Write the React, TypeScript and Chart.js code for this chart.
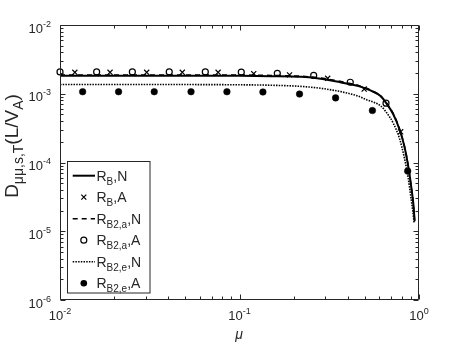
import React, { useEffect, useRef } from 'react';
import { Chart, registerables } from 'chart.js';

Chart.register(...registerables);

// ---- data ----
const lineMu = [0.01, 0.05, 0.1, 0.15, 0.22, 0.27, 0.33, 0.4, 0.46, 0.51, 0.56, 0.61, 0.66, 0.72, 0.78, 0.83, 0.87, 0.91, 0.93, 0.946];
const solidVals = [1.83e-3, 1.83e-3, 1.82e-3, 1.8e-3, 1.76e-3, 1.68e-3, 1.55e-3, 1.4e-3, 1.29e-3, 1.18e-3, 1.06e-3, 9.3e-4, 7.2e-4, 5.0e-4, 3.0e-4, 1.7e-4, 9.0e-5, 4.0e-5, 2.5e-5, 1.4e-5];
const dashedVals = [1.88e-3, 1.88e-3, 1.87e-3, 1.85e-3, 1.8e-3, 1.72e-3, 1.59e-3, 1.44e-3, 1.32e-3, 1.2e-3, 1.07e-3, 9.4e-4, 7.3e-4, 5.1e-4, 3.05e-4, 1.72e-4, 9.1e-5, 4.0e-5, 2.5e-5, 1.4e-5];
const dottedMu = [0.01, 0.05, 0.1, 0.15, 0.22, 0.27, 0.33, 0.4, 0.46, 0.51, 0.56, 0.61, 0.66, 0.72, 0.78, 0.83, 0.87, 0.9, 0.925, 0.94];
const dottedVals = [1.36e-3, 1.36e-3, 1.35e-3, 1.33e-3, 1.28e-3, 1.22e-3, 1.13e-3, 1.02e-3, 9.2e-4, 8.2e-4, 7.5e-4, 6.7e-4, 5.3e-4, 3.7e-4, 2.2e-4, 1.15e-4, 6.0e-5, 3.2e-5, 1.9e-5, 1.3e-5];

const crossMu = [0.0121, 0.019, 0.0304, 0.048, 0.076, 0.12, 0.19, 0.31, 0.495, 0.79];
const crossVals = [2.05e-3, 2.05e-3, 2.05e-3, 2.05e-3, 2.05e-3, 1.96e-3, 1.88e-3, 1.68e-3, 1.17e-3, 2.8e-4];
const openMu = [0.01, 0.016, 0.0253, 0.0406, 0.0645, 0.1023, 0.1624, 0.259, 0.414, 0.655];
const openVals = [2.08e-3, 2.08e-3, 2.08e-3, 2.08e-3, 2.08e-3, 2.06e-3, 1.98e-3, 1.85e-3, 1.47e-3, 7.3e-4];
const filledMu = [0.01337, 0.0212, 0.0335, 0.0537, 0.0851, 0.135, 0.216, 0.343, 0.55, 0.865];
const filledVals = [1.07e-3, 1.07e-3, 1.07e-3, 1.07e-3, 1.07e-3, 1.06e-3, 9.9e-4, 8.7e-4, 5.7e-4, 7.5e-5];

const xTickExps = [-2, -1, 0];
const yTickExps = [-6, -5, -4, -3, -2];

const legendItems = [
  { sub: 'B', tail: ',N', kind: 'solid' },
  { sub: 'B', tail: ',A', kind: 'cross' },
  { sub: 'B2,a', tail: ',N', kind: 'dashed' },
  { sub: 'B2,a', tail: ',A', kind: 'open' },
  { sub: 'B2,e', tail: ',N', kind: 'dotted' },
  { sub: 'B2,e', tail: ',A', kind: 'filled' },
];

const AX = '#262626';
const FONT = '"Liberation Sans", Arial, Helvetica, sans-serif';

const pts = (xs: number[], ys: number[]) => xs.map((x, i) => ({ x, y: ys[i] }));

type Seg = { t: string; size: number; dy: number; italic?: boolean };

function drawSegs(ctx: CanvasRenderingContext2D, segs: Seg[], x0: number, y0: number) {
  let x = x0;
  for (const s of segs) {
    ctx.font = `${s.italic ? 'italic ' : ''}${s.size}px ${FONT}`;
    ctx.fillText(s.t, x, y0 + s.dy);
    x += ctx.measureText(s.t).width;
  }
  return x - x0;
}
function segsWidth(ctx: CanvasRenderingContext2D, segs: Seg[]) {
  let w = 0;
  for (const s of segs) {
    ctx.font = `${s.italic ? 'italic ' : ''}${s.size}px ${FONT}`;
    w += ctx.measureText(s.t).width;
  }
  return w;
}

const framePlugin = {
  id: 'frame',
  afterDatasetsDraw(chart: any) {
    const { ctx, chartArea: a, scales } = chart;
    const xs = scales.x;
    const ys = scales.y;
    const L = Math.round(a.left) + 0.5;
    const R = Math.round(a.right) - 0.5;
    const T = Math.round(a.top) + 0.5;
    const B = Math.round(a.bottom) - 0.5;
    ctx.save();
    ctx.strokeStyle = AX;
    ctx.lineWidth = 1;
    ctx.setLineDash([]);
    ctx.beginPath();
    ctx.rect(L, T, R - L, B - T);
    ctx.stroke();

    // ticks
    ctx.beginPath();
    for (let e = -2; e <= 0; e++) {
      for (let m = 1; m <= 9; m++) {
        const v = m * Math.pow(10, e);
        if (v > 1.0000001) continue;
        const px = Math.round(xs.getPixelForValue(v)) + 0.5;
        const len = m === 1 ? 5 : 3;
        ctx.moveTo(px, B); ctx.lineTo(px, B - len);
        ctx.moveTo(px, T); ctx.lineTo(px, T + len);
      }
    }
    for (let e = -6; e <= -2; e++) {
      for (let m = 1; m <= 9; m++) {
        const v = m * Math.pow(10, e);
        if (v > 1.0000001e-2) continue;
        const py = Math.round(ys.getPixelForValue(v)) + 0.5;
        const len = m === 1 ? 5 : 3;
        ctx.moveTo(L, py); ctx.lineTo(L + len, py);
        ctx.moveTo(R, py); ctx.lineTo(R - len, py);
      }
    }
    ctx.stroke();

    // tick labels
    ctx.fillStyle = AX;
    ctx.textAlign = 'left';
    ctx.textBaseline = 'alphabetic';
    for (const e of xTickExps) {
      const px = xs.getPixelForValue(Math.pow(10, e));
      const segs: Seg[] = [{ t: '10', size: 13, dy: 0 }, { t: String(e), size: 9, dy: -6 }];
      const w = segsWidth(ctx, segs);
      drawSegs(ctx, segs, px - w / 2, 319.5);
    }
    for (const e of yTickExps) {
      const py = ys.getPixelForValue(Math.pow(10, e));
      const segs: Seg[] = [{ t: '10', size: 13, dy: 0 }, { t: String(e), size: 9, dy: -6 }];
      const w = segsWidth(ctx, segs);
      drawSegs(ctx, segs, 51 - w, py + 7.7);
    }

    // x title
    ctx.font = `italic 14px ${FONT}`;
    ctx.textAlign = 'center';
    ctx.fillText('\u03bc', 239, 339);
    ctx.textAlign = 'left';

    // y title (rotated)
    const ySegs: Seg[] = [
      { t: 'D', size: 19, dy: 0 },
      { t: '\u03bc\u03bc,s,T', size: 14, dy: 5 },
      { t: '(L/V', size: 19, dy: 0 },
      { t: 'A', size: 14, dy: 5 },
      { t: ')', size: 19, dy: 0 },
    ];
    ctx.save();
    ctx.translate(18, 146);
    ctx.rotate(-Math.PI / 2);
    const yw = segsWidth(ctx, ySegs);
    drawSegs(ctx, ySegs, -yw / 2, 0);
    ctx.restore();

    // legend
    const bx = 67.5, by = 161.5, bw = 82.5, bh = 131.5;
    ctx.fillStyle = '#ffffff';
    ctx.fillRect(bx, by, bw, bh);
    ctx.strokeStyle = AX;
    ctx.lineWidth = 1;
    ctx.strokeRect(bx, by, bw, bh);
    legendItems.forEach((it, i) => {
      const cy = 175.7 + i * 21.5;
      const x1 = 72.7, x2 = 95, cx = 83.8;
      ctx.strokeStyle = '#000';
      ctx.fillStyle = '#000';
      if (it.kind === 'solid' || it.kind === 'dashed' || it.kind === 'dotted') {
        ctx.lineWidth = it.kind === 'solid' ? 2 : 1.6;
        ctx.setLineDash(it.kind === 'dashed' ? [5, 4] : it.kind === 'dotted' ? [1.5, 1.2] : []);
        ctx.beginPath();
        ctx.moveTo(x1, cy); ctx.lineTo(x2, cy);
        ctx.stroke();
        ctx.setLineDash([]);
      } else if (it.kind === 'cross') {
        ctx.lineWidth = 1.2;
        const d = 2.5;
        ctx.beginPath();
        ctx.moveTo(cx - d, cy - d); ctx.lineTo(cx + d, cy + d);
        ctx.moveTo(cx - d, cy + d); ctx.lineTo(cx + d, cy - d);
        ctx.stroke();
      } else if (it.kind === 'open') {
        ctx.lineWidth = 1.2;
        ctx.beginPath();
        ctx.arc(cx, cy, 3, 0, Math.PI * 2);
        ctx.stroke();
      } else {
        ctx.beginPath();
        ctx.arc(cx, cy, 3.3, 0, Math.PI * 2);
        ctx.fill();
      }
      ctx.fillStyle = AX;
      drawSegs(ctx, [
        { t: 'R', size: 14, dy: 0 },
        { t: it.sub, size: 10, dy: 4.3 },
        { t: it.tail, size: 14, dy: 0 },
      ], 96.5, cy + 4.8);
    });
    ctx.restore();
  },
};

export default function App() {
  const ref = useRef<HTMLCanvasElement | null>(null);
  useEffect(() => {
    if (!ref.current) return;
    const chart = new Chart(ref.current, {
      type: 'scatter',
      data: {
        datasets: [
          {
            label: 'R_B2,a,N', data: pts(lineMu, dashedVals), showLine: true,
            borderColor: '#000', borderWidth: 1.5, borderDash: [5, 4], pointRadius: 0, cubicInterpolationMode: 'monotone',
          },
          {
            label: 'R_B,N', data: pts(lineMu, solidVals), showLine: true,
            borderColor: '#000', borderWidth: 2, pointRadius: 0, cubicInterpolationMode: 'monotone',
          },
          {
            label: 'R_B2,e,N', data: pts(dottedMu, dottedVals), showLine: true,
            borderColor: '#000', borderWidth: 1.6, borderDash: [1.5, 1.2], pointRadius: 0, cubicInterpolationMode: 'monotone',
          },
          {
            label: 'R_B,A', data: pts(crossMu, crossVals), showLine: false,
            pointStyle: 'crossRot', pointRadius: 3.6, borderColor: '#000', borderWidth: 1.2, clip: false,
          },
          {
            label: 'R_B2,a,A', data: pts(openMu, openVals), showLine: false,
            pointStyle: 'circle', pointRadius: 3, borderColor: '#000', backgroundColor: '#fff', borderWidth: 1.2, clip: false,
          },
          {
            label: 'R_B2,e,A', data: pts(filledMu, filledVals), showLine: false,
            pointStyle: 'circle', pointRadius: 3.3, borderColor: '#000', backgroundColor: '#000', borderWidth: 0.5, clip: false,
          },
        ] as any,
      },
      options: {
        responsive: false,
        animation: false,
        devicePixelRatio: 1,
        layout: { padding: { left: 60, right: 44, top: 25, bottom: 44 } },
        plugins: { legend: { display: false }, tooltip: { enabled: false } },
        scales: {
          x: { type: 'logarithmic', min: 0.01, max: 1, display: false },
          y: { type: 'logarithmic', min: 1e-6, max: 1e-2, display: false },
        },
      } as any,
      plugins: [framePlugin],
    });
    return () => chart.destroy();
  }, []);
  return (
    <div style={{ position: 'fixed', left: 0, top: 0, width: 463, height: 344, background: '#fff' }}>
      <canvas ref={ref} width={463} height={344} style={{ display: 'block', width: 463, height: 344 }} />
    </div>
  );
}
